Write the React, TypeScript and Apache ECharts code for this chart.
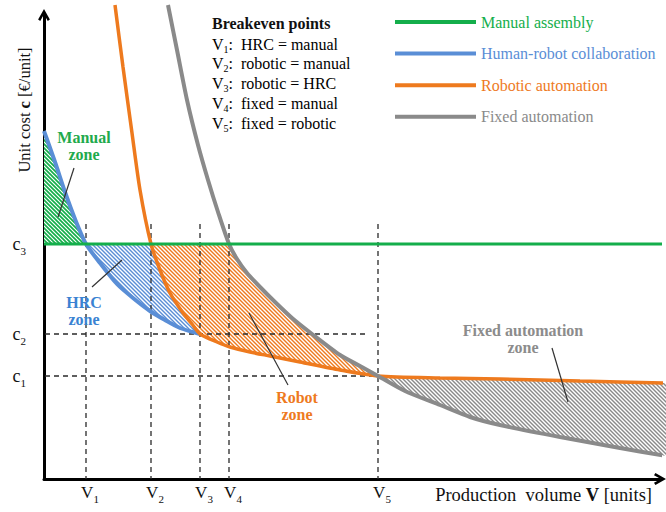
import React, { useEffect, useRef } from 'react';
import * as echarts from 'echarts';

// ---------- data (volume units on x, cost units on y) ----------
const volumeBreakevens = [4.2, 10.7, 15.6, 18.5, 33.4]; // V1..V5
const volumeTickLabels = ['1', '2', '3', '4', '5'];
const costLevels = [10.3, 14.5, 23.5]; // c1..c3
const costTickLabels = ['1', '2', '3'];

const seriesNames = ['Manual assembly', 'Human-robot collaboration', 'Robotic automation', 'Fixed automation'];

const manualCurve: number[][] = [[0, 23.5], [62.2, 23.5]];
const hrcCurve: number[][] = [
  [0, 34.8], [1.1, 31.7], [2.1, 28.7], [3.1, 26.0], [4.2, 23.5], [5.6, 21.6], [7.3, 19.5],
  [8.9, 18.1], [10.6, 16.8], [12.1, 15.9], [13.6, 15.1], [15.6, 14.5],
];
const roboticCurve: number[][] = [
  [7.1, 47.4], [7.9, 41.2], [8.8, 34.6], [9.6, 28.9], [10.7, 23.5], [11.6, 20.9], [12.6, 18.6],
  [13.9, 16.6], [14.8, 15.5], [15.6, 14.5], [17.3, 13.7], [18.6, 13.2], [20.6, 12.7], [22.6, 12.3],
  [25.6, 11.7], [29.6, 10.9], [33.4, 10.3], [39.6, 10.1], [45.6, 10.0], [53.6, 9.8], [62.2, 9.6],
];
const fixedCurve: number[][] = [
  [12.4, 47.4], [13.3, 42.9], [14.3, 37.9], [15.4, 33.4], [16.4, 29.9], [17.4, 26.7], [18.5, 23.5],
  [19.3, 22.0], [20.3, 20.6], [21.6, 19.2], [23.1, 17.7], [24.8, 16.1], [26.8, 14.5], [29.6, 12.4],
  [31.6, 11.3], [33.4, 10.3], [36.1, 8.8], [39.6, 7.4], [42.6, 6.2], [45.6, 5.4], [51.6, 4.2],
  [57.6, 3.1], [62.2, 2.3],
];

const breakevenTitle = 'Breakeven points';
const breakevenTexts = ['HRC = manual', 'robotic = manual', 'robotic = HRC', 'fixed = manual', 'fixed = robotic'];

const zoneLabels = [
  ['Manual', 'zone'],
  ['HRC', 'zone'],
  ['Robot', 'zone'],
  ['Fixed automation', 'zone'],
];

// ---------- styling ----------
const GREEN = '#14ae4b';
const BLUE = '#5a8ed6';
const ORANGE = '#ee7a1e';
const GRAY = '#8a8a8a';
const colors = [GREEN, BLUE, ORANGE, GRAY];
const widths = [3, 4, 3.5, 4];
const FONT = "'Liberation Serif', 'Times New Roman', serif";
const X_MAX = 61.6;
const Y_MAX = 46.4;

const seg = (curve: number[][], x0: number, x1: number) =>
  curve.filter((p) => p[0] >= x0 - 1e-9 && p[0] <= x1 + 1e-9);

function hatch(color: string, lw: number) {
  const s = 4;
  const c = document.createElement('canvas');
  c.width = s;
  c.height = s;
  const ctx = c.getContext('2d')!;
  ctx.fillStyle = '#ffffff';
  ctx.fillRect(0, 0, s, s);
  ctx.strokeStyle = color;
  ctx.lineWidth = lw;
  for (const k of [-1, 0, 1]) {
    ctx.beginPath();
    ctx.moveTo(-1, -1 + k * s);
    ctx.lineTo(s + 1, s + 1 + k * s);
    ctx.stroke();
  }
  return c;
}

export default function App() {
  const ref = useRef<HTMLDivElement>(null);

  useEffect(() => {
    if (!ref.current) return;
    const chart = echarts.init(ref.current, undefined, { renderer: 'svg' });

    const [V1, V2, V3, V4, V5] = volumeBreakevens;
    const c3 = costLevels[2];
    const manualZone = [...seg(hrcCurve, 0, V1), [0, c3]];
    const hrcZone = [[V1, c3], [V2, c3], ...seg(roboticCurve, V2, V3), ...seg(hrcCurve, V1, V3).reverse()];
    const robotZone = [[V2, c3], [V4, c3], ...seg(fixedCurve, V4, V5), ...seg(roboticCurve, V2, V5).reverse()];
    const fixedZone = [...seg(roboticCurve, V5, 62.2), ...seg(fixedCurve, V5, 62.2).reverse()];

    const zoneSeries = (poly: number[][], color: string, lw: number) => {
      const pattern = { image: hatch(color, lw), repeat: 'repeat' };
      return {
        type: 'custom',
        coordinateSystem: 'cartesian2d',
        silent: true,
        z: 1,
        data: poly,
        renderItem: (params: any, api: any) =>
          params.dataIndex === 0
            ? {
                type: 'polygon',
                shape: { points: poly.map((p) => api.coord(p)) },
                style: { fill: pattern, stroke: null },
              }
            : null,
      };
    };

    const curves = [manualCurve, hrcCurve, roboticCurve, fixedCurve];
    const curveSeries = curves.map((d, i) => ({
      type: 'line',
      name: seriesNames[i],
      data: d,
      symbol: 'none',
      showSymbol: false,
      smooth: i === 0 ? false : 0.25,
      clip: false,
      silent: true,
      z: 4 + (i === 0 ? 1 : 0),
      lineStyle: { color: colors[i], width: widths[i] },
      itemStyle: { color: colors[i] },
    }));

    const dashStyle = { color: '#2a2a2a', width: 1.3, type: [5, 4] };
    const vDash = volumeBreakevens.map((v) => ({
      type: 'line',
      data: [[v, 25.5], [v, 0]],
      symbol: 'none',
      clip: false,
      silent: true,
      z: 3,
      lineStyle: dashStyle,
    }));
    const hEnds = [33.0, 32.4, 32.4];
    const hDash = costLevels.map((c, i) => ({
      type: 'line',
      data: [[-0.8, c], [hEnds[i], c]],
      symbol: 'none',
      clip: false,
      silent: true,
      z: 3,
      lineStyle: dashStyle,
    }));

    const arrow = 'path://M5,0 L10,9 L8.2,10.2 L5,4.4 L1.8,10.2 L0,9 Z';

    const near = (arr: number[], v: number) => arr.findIndex((a) => Math.abs(a - v) < 1e-6);

    const subRich = (main: number, sub: number, pad: number, left = 0) => ({
      m: { fontFamily: FONT, fontSize: main, lineHeight: main, color: '#111', verticalAlign: 'top', padding: [0, 0, 0, left] },
      s: { fontFamily: FONT, fontSize: sub, lineHeight: sub, color: '#111', verticalAlign: 'top', padding: [pad, 0, 0, 0] },
    });

    const bpRich = {
      ...subRich(16, 10, 8),
      t: { fontFamily: FONT, fontSize: 16, lineHeight: 16, color: '#111', verticalAlign: 'top' },
    };

    const zoneText = (lines: string[], x: number, y: number, color: string) =>
      lines.map((t, i) => ({
        type: 'text',
        x,
        y: y + i * 17,
        z: 10,
        silent: true,
        style: {
          text: t,
          fontFamily: FONT,
          fontSize: 16,
          fontWeight: 'bold',
          fill: color,
          align: 'center',
          verticalAlign: 'middle',
        },
      }));

    const leader = (x1: number, y1: number, x2: number, y2: number) => ({
      type: 'line',
      z: 10,
      silent: true,
      shape: { x1, y1, x2, y2 },
      style: { stroke: '#333', lineWidth: 1.2 },
    });

    const graphic: any[] = [
      // axis names
      {
        type: 'text',
        x: 24,
        y: 110,
        rotation: Math.PI / 2,
        z: 10,
        style: {
          text: '{a|Unit cost }{b|c}{a| [€/unit]}',
          rich: {
            a: { fontFamily: FONT, fontSize: 16.5, fill: '#111', color: '#111' },
            b: { fontFamily: FONT, fontSize: 16.5, fontWeight: 'bold', fill: '#111', color: '#111' },
          },
          align: 'center',
          verticalAlign: 'middle',
        },
      },
      {
        type: 'text',
        x: 652,
        y: 495,
        z: 10,
        style: {
          text: '{a|Production  volume }{b|V}{a| [units]}',
          rich: {
            a: { fontFamily: FONT, fontSize: 18.5, fill: '#111', color: '#111' },
            b: { fontFamily: FONT, fontSize: 18.5, fontWeight: 'bold', fill: '#111', color: '#111' },
          },
          align: 'right',
          verticalAlign: 'middle',
        },
      },
      // breakeven block
      {
        type: 'text',
        x: 212,
        y: 23,
        z: 10,
        style: {
          text: breakevenTitle,
          fontFamily: FONT,
          fontSize: 16,
          fontWeight: 'bold',
          fill: '#111',
          align: 'left',
          verticalAlign: 'middle',
        },
      },
      ...breakevenTexts.map((t, i) => ({
        type: 'text',
        x: 212,
        y: 36 + i * 19.8,
        z: 10,
        style: {
          text: `{m|V}{s|${volumeTickLabels[i]}}{t|:  ${t}}`,
          rich: bpRich,
          align: 'left',
          verticalAlign: 'top',
        },
      })),
      // zone labels
      ...zoneText(zoneLabels[0], 84, 137, '#1faa4c'),
      leader(74, 168, 58, 217),
      ...zoneText(zoneLabels[1], 84, 302, '#3a82d2'),
      leader(122, 260, 92, 287),
      ...zoneText(zoneLabels[2], 297, 397, ORANGE),
      leader(249, 313, 288, 385),
      ...zoneText(zoneLabels[3], 523, 330, '#8c8c8c'),
      leader(552, 348, 568, 402),
    ];

    chart.setOption({
      animation: false,
      backgroundColor: '#ffffff',
      grid: { left: 44, right: 6, top: 15, bottom: 33, containLabel: false, outerBoundsMode: 'none' },
      legend: {
        orient: 'vertical',
        left: 390,
        top: 8,
        icon: 'rect',
        itemWidth: 81,
        itemHeight: 4,
        itemGap: 13.6,
        selectedMode: false,
        textStyle: { fontFamily: FONT, fontSize: 16, lineHeight: 18 },
        data: seriesNames.map((n, i) => ({
          name: n,
          textStyle: { color: colors[i], fontFamily: FONT, fontSize: 16, lineHeight: 18 },
        })),
      },
      xAxis: {
        type: 'value',
        min: 0,
        max: X_MAX,
        splitLine: { show: false },
        axisTick: { show: false },
        axisLine: {
          show: true,
          onZero: false,
          symbol: ['none', arrow],
          symbolSize: [13, 12],
          lineStyle: { color: '#000', width: 3 },
        },
        axisLabel: {
          customValues: volumeBreakevens,
          margin: 5,
          formatter: (v: number) => `{m|V}{s|${volumeTickLabels[near(volumeBreakevens, v)] ?? ''}}`,
          rich: subRich(17, 11, 9, 8),
        },
      },
      yAxis: {
        type: 'value',
        min: 0,
        max: Y_MAX,
        splitLine: { show: false },
        axisTick: { show: false },
        axisLine: {
          show: true,
          onZero: false,
          symbol: ['none', arrow],
          symbolSize: [13, 12],
          lineStyle: { color: '#000', width: 3 },
        },
        axisLabel: {
          customValues: costLevels,
          margin: 18,
          formatter: (v: number) => `{m|c}{s|${costTickLabels[near(costLevels, v)] ?? ''}}`,
          rich: subRich(18, 11, 10),
        },
      },
      series: [
        zoneSeries(manualZone, GREEN, 1.7),
        zoneSeries(hrcZone, BLUE, 1.4),
        zoneSeries(robotZone, ORANGE, 1.4),
        zoneSeries(fixedZone, GRAY, 1.4),
        ...vDash,
        ...hDash,
        ...curveSeries,
      ],
      graphic,
    });

    return () => chart.dispose();
  }, []);

  return <div ref={ref} style={{ position: 'fixed', left: 0, top: 0, width: 666, height: 512 }} />;
}
